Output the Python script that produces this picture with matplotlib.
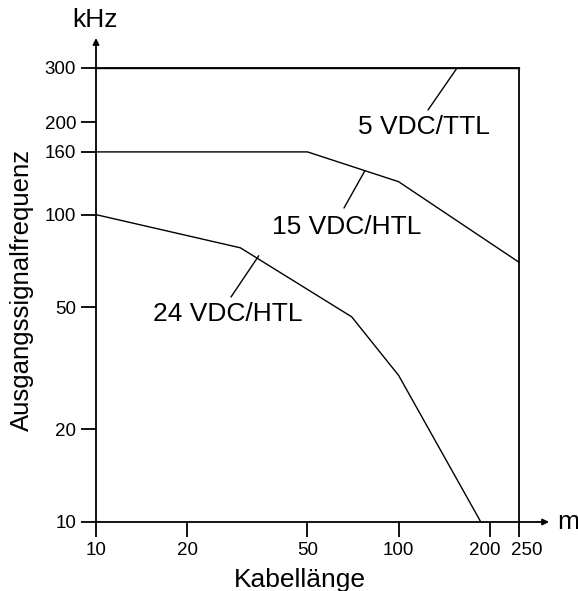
import matplotlib
matplotlib.use("Agg")
import matplotlib.pyplot as plt
import matplotlib.transforms as mtransforms
from matplotlib.ticker import FixedLocator, FixedFormatter, NullLocator

plt.rcParams['font.family'] = ['Liberation Sans', 'DejaVu Sans']

# ---- data ----
x_ttl5 = [10, 250]
y_ttl5 = [300, 300]
x_htl15 = [10, 50, 100, 250]
y_htl15 = [160, 160, 128, 70]
x_htl24 = [10, 30, 70, 100, 187]
y_htl24 = [100, 78, 46.5, 30, 10]

x_ticks = [10, 20, 50, 100, 200, 250]
x_ticklabels = ["10", "20", "50", "100", "200", "250"]
y_ticks = [10, 20, 50, 100, 160, 200, 300]
y_ticklabels = ["10", "20", "50", "100", "160", "200", "300"]

series_labels = ["5 VDC/TTL", "15 VDC/HTL", "24 VDC/HTL"]
x_label = "Kabellänge"
y_label = "Ausgangssignalfrequenz"
x_unit = "m"
y_unit = "kHz"

W, H = 578, 591
fig = plt.figure(figsize=(W / 100, H / 100), dpi=100)


def px(x, y):
    return (x / W, 1 - y / H)


ax = fig.add_axes([96 / W, (H - 522) / H, 423 / W, 454 / H])
ax.set_xscale('log')
ax.set_yscale('log')
ax.set_xlim(10, 250)
ax.set_ylim(10, 300)

lw_axis = 1.3
lw_data = 1.0
for s in ax.spines.values():
    s.set_linewidth(lw_axis)
    s.set_color('black')

ax.plot(x_ttl5, y_ttl5, color='black', lw=lw_data, clip_on=False)
ax.plot(x_htl15, y_htl15, color='black', lw=lw_data, clip_on=False)
ax.plot(x_htl24, y_htl24, color='black', lw=lw_data, clip_on=False)

ax.xaxis.set_major_locator(FixedLocator(x_ticks))
ax.xaxis.set_major_formatter(FixedFormatter(x_ticklabels))
ax.xaxis.set_minor_locator(NullLocator())
ax.yaxis.set_major_locator(FixedLocator(y_ticks))
ax.yaxis.set_major_formatter(FixedFormatter(y_ticklabels))
ax.yaxis.set_minor_locator(NullLocator())
ax.tick_params(axis='both', which='major', direction='out', length=10.8,
               width=lw_axis, labelsize=13.5, pad=3.5, colors='black')

# separate the crowded 200 / 250 labels a little
fig.canvas.draw()
shifts = {"200": -5, "250": 8}
for lab in ax.get_xticklabels():
    t = lab.get_text()
    if t in shifts:
        off = mtransforms.ScaledTranslation(shifts[t] / 100, 0, fig.dpi_scale_trans)
        lab.set_transform(lab.get_transform() + off)

# axis arrows
ax.annotate('', xy=(0, 1.066), xytext=(0, 1.0), xycoords='axes fraction',
            textcoords='axes fraction', annotation_clip=False,
            arrowprops=dict(arrowstyle='-|>', mutation_scale=9, lw=lw_axis,
                            color='black', shrinkA=0, shrinkB=0))
ax.annotate('', xy=(1.071, 0), xytext=(1.0, 0), xycoords='axes fraction',
            textcoords='axes fraction', annotation_clip=False,
            arrowprops=dict(arrowstyle='-|>', mutation_scale=9, lw=lw_axis,
                            color='black', shrinkA=0, shrinkB=0))

# leader lines: from curve point to label
leaders = [((156, 300), (428, 110)),
           ((77.4, 139), (344, 208)),
           ((34.5, 73.5), (231, 297))]
for (xy, tpx) in leaders:
    ax.annotate('', xy=xy, xycoords='data', xytext=px(*tpx),
                textcoords='figure fraction', annotation_clip=False,
                arrowprops=dict(arrowstyle='-', lw=lw_data, color='black',
                                shrinkA=0, shrinkB=0))

label_pos = [(358, 134), (272, 234), (153, 321)]
for lab, p in zip(series_labels, label_pos):
    fig.text(*px(*p), lab, fontsize=19, ha='left', va='baseline')

fig.text(*px(300, 580), x_label, fontsize=19, ha='center', va='center')
fig.text(*px(22, 290), y_label, fontsize=18.5, ha='center', va='center',
         rotation=90)
fig.text(*px(95, 27), y_unit, fontsize=19, ha='center', va='baseline')
fig.text(*px(557, 529), x_unit, fontsize=19, ha='left', va='baseline')

fig.savefig('out.png', dpi=100)
